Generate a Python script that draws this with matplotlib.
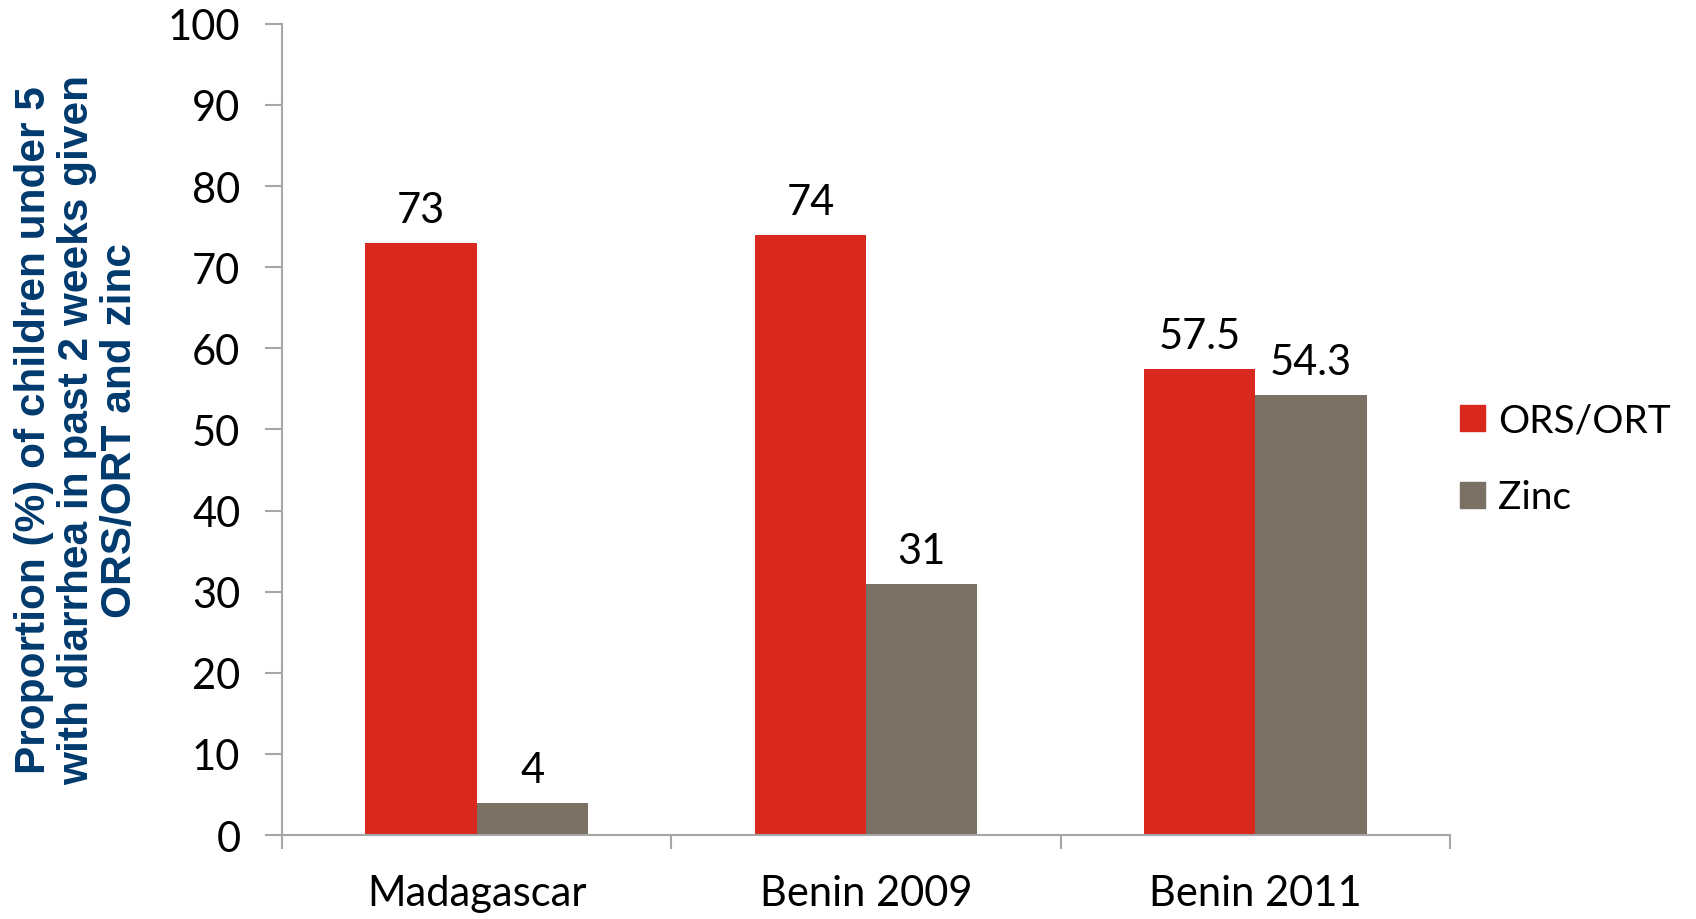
import numpy as np
import matplotlib

matplotlib.use("Agg")
import matplotlib.pyplot as plt
from matplotlib.patches import Patch

RED, GREY, AXIS, NAVY = "#d9281d", "#7a7064", "#a6a6a6", "#003a6e"

categories = ["Madagascar", "Benin 2009", "Benin 2011"]
ors_vals = [73, 74, 57.5]
zinc_vals = [4, 31, 54.3]
ors_labels = ["73", "74", "57.5"]
zinc_labels = ["4", "31", "54.3"]
y_ticks = [0, 10, 20, 30, 40, 50, 60, 70, 80, 90, 100]

FONT = ["Lato", "DejaVu Sans"]
plt.rcParams["font.family"] = FONT
FS = 30

fig = plt.figure(figsize=(16.96, 9.2), dpi=100)
ax = fig.add_axes([0.1663, 0.0913, 0.6887, 0.8817])

x = np.arange(len(categories))
w = 1 / 3.5
ax.bar(x - w / 2, ors_vals, width=w, color=RED, label="ORS/ORT")
ax.bar(x + w / 2, zinc_vals, width=w, color=GREY, label="Zinc")

for xi, v, s in zip(x, ors_vals, ors_labels):
    ax.annotate(s, (xi - w / 2, v), xytext=(0, 10), textcoords="offset points",
                ha="center", va="bottom", fontsize=FS)
for xi, v, s in zip(x, zinc_vals, zinc_labels):
    ax.annotate(s, (xi + w / 2, v), xytext=(0, 10), textcoords="offset points",
                ha="center", va="bottom", fontsize=FS)

ax.set_xlim(-0.5, len(categories) - 0.5)
ax.set_ylim(0, 100)
ax.set_yticks(y_ticks)
ax.tick_params(axis="y", labelsize=FS, length=12, width=1.5, color=AXIS, pad=18)

ax.set_xticks(x)
ax.set_xticklabels(categories, fontsize=FS)
ax.set_xticks(np.arange(len(categories) + 1) - 0.5, minor=True)
ax.tick_params(axis="x", which="major", length=0, pad=28)
ax.tick_params(axis="x", which="minor", length=10, width=1.5, color=AXIS)

for side in ("top", "right"):
    ax.spines[side].set_visible(False)
for side in ("left", "bottom"):
    ax.spines[side].set_color(AXIS)
    ax.spines[side].set_linewidth(1.5)

ax.set_ylabel("Proportion (%) of children under 5\nwith diarrhea in past 2 weeks given\nORS/ORT and zinc",
              fontsize=30.5, fontweight="bold", color=NAVY, linespacing=1.1,
              family=["Liberation Sans Narrow", "Liberation Sans", "DejaVu Sans"], labelpad=20)

handles = [Patch(color=RED, label="ORS/ORT"), Patch(color=GREY, label="Zinc")]
fig.legend(handles=handles, loc="center left", bbox_to_anchor=(0.84, 0.50),
           frameon=False, fontsize=28, handlelength=0.64, handleheight=0.64,
           handletextpad=0.35, labelspacing=1.05)

fig.savefig("out.png", dpi=100)
